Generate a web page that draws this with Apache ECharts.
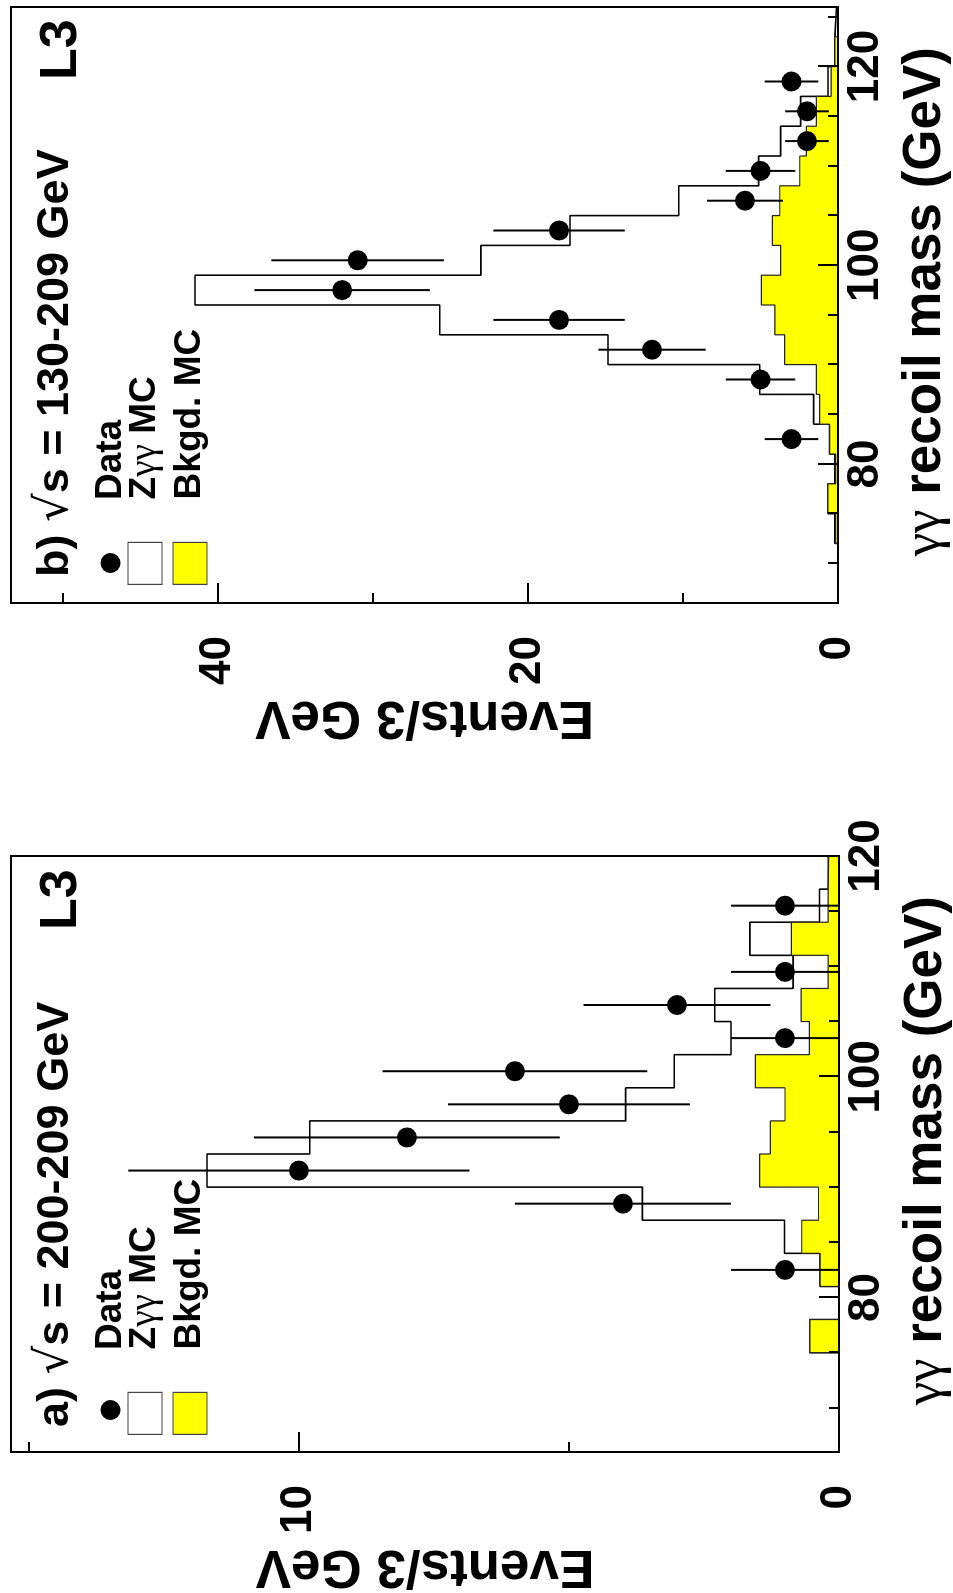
<!DOCTYPE html>
<html><head><meta charset="utf-8">
<script src="https://cdn.jsdelivr.net/npm/echarts@6/dist/echarts.min.js"></script>
<style>
html,body{margin:0;padding:0;width:953px;height:1593px;overflow:hidden;background:#fff;}
#chart{position:absolute;left:0;top:0;width:1593px;height:953px;transform-origin:0 0;transform:translate(0,1593px) rotate(-90deg);}
</style></head><body><div id="chart"></div>
<script>
// ---------- Panel a) sqrt(s) = 200-209 GeV ----------
const binEdgesA = [66,69,72,75,78,81,84,87,90,93,96,99,102,105,108,111,114,117,120];
const zggA = [0,0,0,0.54,0,0.35,1.01,3.64,11.7,9.8,3.95,3.05,2.0,2.3,0.85,1.65,0.36,0.2];
const bkgA = [0,0,0,0.54,0,0.35,0.69,0.38,1.47,1.27,1.0,1.55,0.55,0.7,0.2,0.88,0.2,0.19];
const dataMassA = [82.5,88.5,91.5,94.5,97.5,100.5,103.5,106.5,109.5,115.5];
const dataA = [1,4,10,8,5,6,1,3,1,1];
const errA = [1,2,3.16,2.83,2.24,2.45,1,1.73,1,1];
const eventTicksA = [0,10];

// ---------- Panel b) sqrt(s) = 130-209 GeV ----------
const binEdgesB = [66,69,72,75,78,81,84,87,90,93,96,99,102,105,108,111,114,117,120,123,126];
const zggB = [0,0,0.2,0.65,0.2,0.55,1.57,5.05,14.84,25.7,41.5,23.05,17.3,10.28,5.12,3.7,2.41,0.65,0.2,0.1];
const bkgB = [0,0,0.15,0.65,0.15,0.54,1.18,1.4,3.44,4.08,4.95,3.7,4.24,3.76,2.47,2.04,1.4,0.45,0.2,0];
const dataMassB = [82.5,88.5,91.5,94.5,97.5,100.5,103.5,106.5,109.5,112.5,115.5,118.5];
const dataB = [3,5,12,18,32,31,18,6,5,2,2,3];
const errB = [1.73,2.24,3.46,4.24,5.66,5.57,4.24,2.45,2.24,1.41,1.41,1.73];
const eventTicksB = [0,20,40];

const massTicks = [80,100,120];
const legendNames = ['Data','Zγγ MC','Bkgd. MC'];
const titlesText = ['a) {r|√}s = 200-209 GeV','b) {r|√}s = 130-209 GeV'];

const FONT = 'Liberation Sans';

function stepData(edges, vals){
  const d = vals.map((v,i)=>[edges[i], v]);
  d.push([edges[edges.length-1], vals[vals.length-1]]);
  return d;
}

function buildPanel(i, c){
  const grid = {left:c.left, top:11, width:c.width, height:c.height, show:true,
    borderColor:'#000', borderWidth:2, backgroundColor:'transparent'};
  const xMajor = {type:'value', gridIndex:i, position:'bottom', min:c.xMin, max:c.xMax, splitNumber:3,
    minInterval:20, maxInterval:20, z:10,
    axisLine:{show:true, onZero:false, lineStyle:{color:'#000', width:2}},
    axisTick:{show:true, inside:true, length:20, lineStyle:{color:'#000', width:2}},
    axisLabel:{show:true, margin:6, color:'#000', fontSize:44, fontWeight:'bold', fontFamily:FONT,
      formatter:v=> massTicks.includes(Math.round(v*1000)/1000) ? String(v) : ''},
    splitLine:{show:false},
    name:'{g|γγ} recoil mass (GeV)', nameLocation:'end', nameGap:-40,
    nameTextStyle:{align:'right', verticalAlign:'top', padding:[61,0,0,0], color:'#000',
      fontSize:53, fontWeight:'bold', fontFamily:FONT,
      rich:{g:{fontSize:53, fontWeight:'normal', fontFamily:'Liberation Serif', color:'#000'}}}
  };
  const xMinor = {type:'value', gridIndex:i, position:'bottom', min:c.xMin, max:c.xMax, splitNumber:11,
    minInterval:5, maxInterval:5, z:10,
    axisLine:{show:false, onZero:false}, axisLabel:{show:false}, splitLine:{show:false},
    axisTick:{show:true, inside:true, length:10, lineStyle:{color:'#000', width:2}}};
  const yMajor = {type:'value', gridIndex:i, position:'left', min:0, max:c.yMax, interval:c.yMajor, z:10,
    axisLine:{show:true, onZero:false, lineStyle:{color:'#000', width:2}},
    axisTick:{show:true, inside:true, length:20, lineStyle:{color:'#000', width:2}},
    axisLabel:{show:true, margin:33, color:'#000', fontSize:44, fontWeight:'bold', fontFamily:FONT,
      showMaxLabel:false,
      formatter:v=> c.yLabels.includes(Math.round(v*1000)/1000) ? String(v) : ''},
    splitLine:{show:false},
    name:'Events/3 GeV', nameLocation:'middle', nameGap:87,
    nameTextStyle:{color:'#000', fontSize:53, fontWeight:'bold', fontFamily:FONT}
  };
  const yMinor = {type:'value', gridIndex:i, position:'left', min:0, max:c.yMax, interval:c.yMinor, z:10,
    axisLine:{show:false, onZero:false}, axisLabel:{show:false}, splitLine:{show:false},
    axisTick:{show:true, inside:true, length:10, lineStyle:{color:'#000', width:2}}};
  const xi = 2*i, yi = 2*i;
  const series = [
    {name:'Zγγ MC', type:'line', xAxisIndex:xi, yAxisIndex:yi, data:stepData(c.edges, c.zgg),
      step:'end', symbol:'none', lineStyle:{color:'#000', width:1.6}, itemStyle:{color:'#ffffff'},
      z:2, silent:true},
    {name:'Bkgd. MC', type:'line', xAxisIndex:xi, yAxisIndex:yi, data:stepData(c.edges, c.bkg),
      step:'end', symbol:'none', lineStyle:{color:'#222', width:1.2}, itemStyle:{color:'#ffff00'},
      areaStyle:{color:'#ffff00', opacity:1}, z:3, silent:true},
    {name:'Data err '+i, type:'custom', xAxisIndex:xi, yAxisIndex:yi,
      data:c.mass.map((m,k)=>[m, c.data[k], c.err[k]]), encode:{x:0, y:1}, z:5, silent:true,
      renderItem:(params, api)=>{
        const m = api.value(0), v = api.value(1), e = api.value(2);
        const p1 = api.coord([m, Math.max(0, v-e)]), p2 = api.coord([m, v+e]);
        return {type:'line', shape:{x1:p1[0], y1:p1[1], x2:p2[0], y2:p2[1]},
          style:{stroke:'#000', lineWidth:2}};
      }},
    {name:'Data', type:'scatter', xAxisIndex:xi, yAxisIndex:yi,
      data:c.mass.map((m,k)=>[m, c.data[k]]), symbol:'circle', symbolSize:20,
      itemStyle:{color:'#000', opacity:1}, z:6, silent:true}
  ];
  const legTxt = {color:'#000', fontSize:37, fontWeight:'bold', fontFamily:FONT,
    rich:{g:{fontSize:37, fontWeight:'normal', fontFamily:'Liberation Serif', color:'#000'}}};
  const fmt = n => n === 'Zγγ MC' ? 'Z{g|γγ} MC' : n;
  const legends = [
    {orient:'vertical', left:c.dotLeft, top:92, padding:0, itemWidth:20, itemHeight:20,
      selectedMode:false, formatter:fmt,
      textStyle:Object.assign({padding:[0,0,0,c.dotPad]}, legTxt),
      data:[{name:legendNames[0], icon:'circle', itemStyle:{color:'#000', opacity:1, borderWidth:0}}]},
    {orient:'vertical', left:c.boxLeft, top:126.5, padding:0, itemWidth:42, itemHeight:34, itemGap:8,
      selectedMode:false, formatter:fmt,
      textStyle:Object.assign({padding:[0,0,0,38]}, legTxt),
      data:[{name:legendNames[1], icon:'rect', itemStyle:{color:'#ffffff', borderColor:'#444', borderWidth:1.2}},
            {name:legendNames[2], icon:'rect', itemStyle:{color:'#ffff00', borderColor:'#444', borderWidth:1.2}}]}
  ];
  const titles = [
    {text:c.title, left:c.titleLeft, top:33, padding:0,
      textStyle:{color:'#000', fontSize:45, fontWeight:'bold', fontFamily:FONT,
        rich:{r:{fontSize:45, fontWeight:'normal', fontFamily:'DejaVu Sans', color:'#000'}}}},
    {text:'L3', left:c.l3Left, top:36, padding:0,
      textStyle:{color:'#000', fontSize:52, fontWeight:'bold', fontFamily:FONT}}
  ];
  return {grid, xAxes:[xMajor, xMinor], yAxes:[yMajor, yMinor], series, legends, titles};
}

const pA = buildPanel(0, {left:140, width:597, height:828, xMin:66, xMax:120, yMax:15.33,
  yMajor:10, yMinor:5, yLabels:eventTicksA, edges:binEdgesA, zgg:zggA, bkg:bkgA,
  mass:dataMassA, data:dataA, err:errA, title:titlesText[0], titleLeft:166, l3Left:663,
  dotLeft:173, dotPad:45, boxLeft:158});
const pB = buildPanel(1, {left:990, width:596, height:827, xMin:66, xMax:126, yMax:53.37,
  yMajor:20, yMinor:10, yLabels:eventTicksB, edges:binEdgesB, zgg:zggB, bkg:bkgB,
  mass:dataMassB, data:dataB, err:errB, title:titlesText[1], titleLeft:1016, l3Left:1513,
  dotLeft:1020, dotPad:48, boxLeft:1008});

const chart = echarts.init(document.getElementById('chart'), null, {renderer:'canvas', width:1593, height:953});
chart.setOption({
  animation:false,
  backgroundColor:'#ffffff',
  title:[...pA.titles, ...pB.titles],
  legend:[...pA.legends, ...pB.legends],
  grid:[pA.grid, pB.grid],
  xAxis:[...pA.xAxes, ...pB.xAxes],
  yAxis:[...pA.yAxes, ...pB.yAxes],
  series:[...pA.series, ...pB.series]
});
</script></body></html>
